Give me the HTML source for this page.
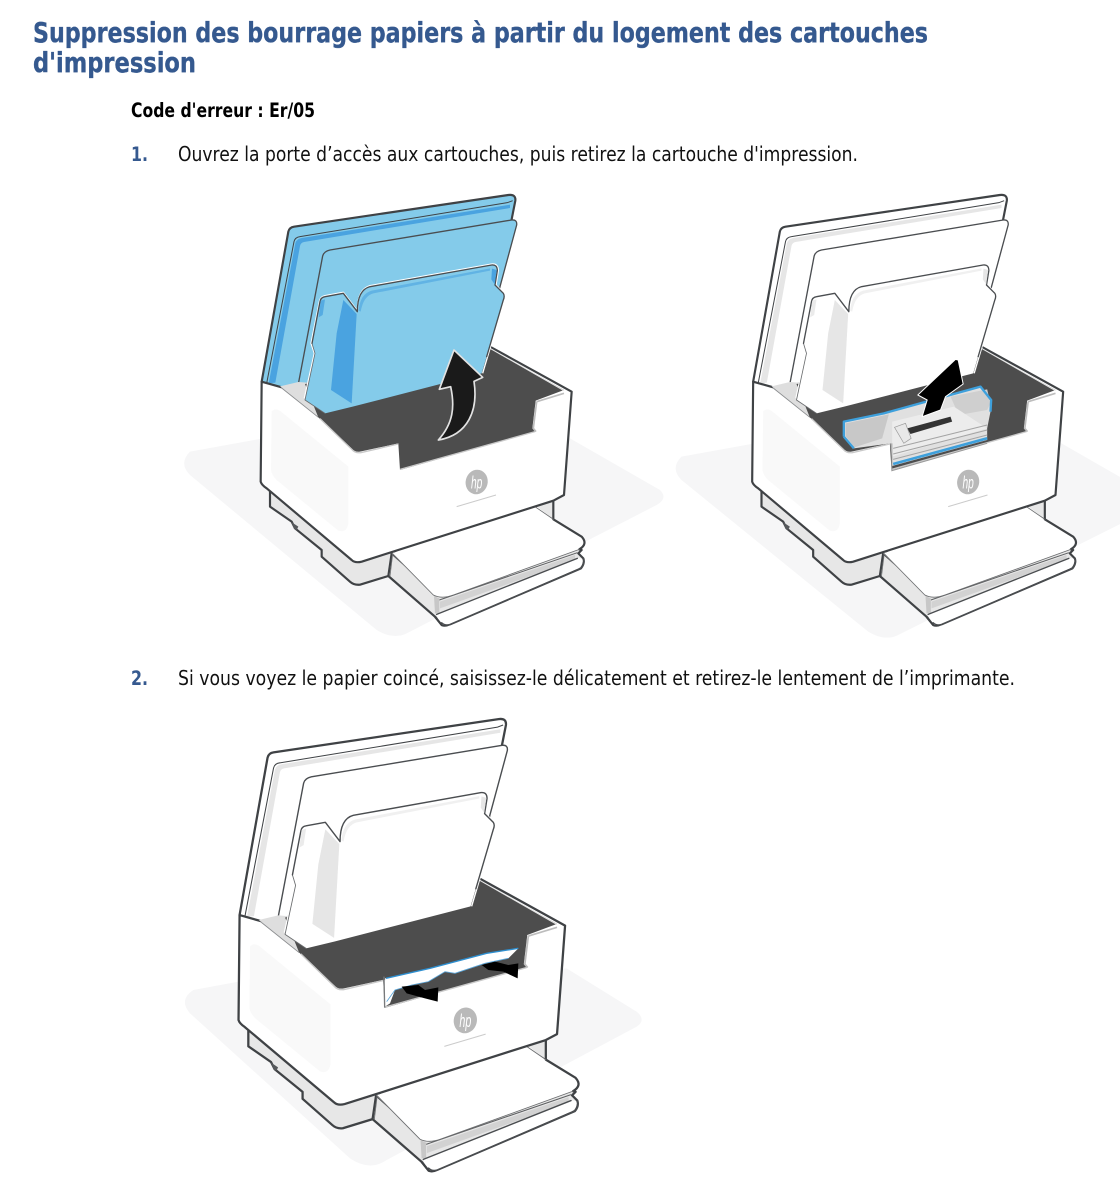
<!DOCTYPE html>
<html lang="fr">
<head>
<meta charset="utf-8">
<title>Suppression des bourrage papiers</title>
<style>
html,body{margin:0;padding:0;background:#fff}
svg{display:block}
text{font-family:"DejaVu Sans","Liberation Sans",sans-serif}
.hp{font-family:"Liberation Sans",sans-serif}
.title{stroke:#35598f;stroke-width:.35px}
.s{stroke:#3f4245;stroke-width:6.5;stroke-linejoin:round;stroke-linecap:round}
.t{stroke:#4a4d50;stroke-width:4;stroke-linejoin:round;stroke-linecap:round}
.n{stroke:#6a6c6e;stroke-width:2.5;stroke-linejoin:round;stroke-linecap:round}
.l{fill:var(--l)}
.m{fill:var(--m)}
.w{fill:#fff}
.g{fill:#e7e7e7}
.soft{filter:blur(.5px)}
</style>
</head>
<body>
<svg width="1120" height="1194" viewBox="0 0 1120 1194" xmlns="http://www.w3.org/2000/svg">
<defs>
<g id="p">
  <!-- base -->
  <path class="g s" d="M300 925L300 980L365 1025L375 1045L455 1110L455 1130L540 1205Q552 1216 570 1214L655 1188L680 1100Z"/>
  <path fill="#55585b" d="M364 1026L385 1040L380 1050L372 1046Z"/>
  <path class="g s" d="M1095 975L1095 985L1150 1020L1150 950Z"/>
  <!-- tray -->
  <path class="g s" d="M665 1120L655 1188L795 1310L815 1335Q825 1340 840 1333L1233 1165Q1245 1150 1240 1135L1225 1120L1235 1110L1225 1105L800 1240Z"/>
  <path fill="#d2d2d2" d="M810 1265L1215 1125L1215 1140L810 1285Z"/>
  <path d="M808 1260L1222 1118" stroke="#5d5f61" stroke-width="3" fill="none"/>
  <path fill="#c7c7c7" d="M792 1248L808 1255L808 1298L795 1300Z"/>
  <path class="w" d="M800 1303L1222 1135Q1240 1132 1238 1145Q1236 1158 1225 1165L840 1332Q825 1338 815 1332Q802 1318 800 1303Z"/>
  <path d="M815 1328Q825 1338 840 1333L1233 1165Q1245 1152 1240 1135M800 1303L1222 1135" class="t" fill="none"/>
  <path d="M795 1310L815 1335" class="s" fill="none"/>
  <path class="w" d="M665 1120L790 1245Q815 1258 850 1245L1228 1108Q1255 1095 1235 1070L1150 1018L1095 975Z"/>
  <path d="M1150 1018L1235 1070Q1255 1092 1228 1108" class="s" fill="none"/>
  <path d="M667 1120L790 1245Q815 1258 850 1245L1228 1108" class="n" fill="none"/>
  <path d="M1095 980L1150 1018" class="n" fill="none"/>
  <path d="M668 1122L660 1188" class="n" fill="none"/>
  <!-- lid -->
  <path class="l s" d="M275 605L355 155Q358 142 372 140L1015 45Q1038 42 1036 62L1025 118L985 330L950 520L300 640Z"/>
  <path d="M290 610L372 185Q375 172 390 170L1012 68L1028 62" fill="none" stroke="#3f4245" stroke-width="3"/>
  <path class="m" d="M296 610L376 190Q380 176 395 174L1020 74L1020 84L402 186Q392 188 390 198L316 608Z"/>
  <path class="l t" d="M385 612L458 228Q462 214 480 210L1025 120Q1042 118 1040 135L990 320L950 520L400 640Z"/>
  <!-- body -->
  <path class="w s" d="M275 605L335 622L405 612L960 500L1205 635L1182 945L1150 962L575 1145Q555 1150 545 1140L290 925Q275 915 272 905Z"/>
  <path d="M305 695Q315 682 332 694L535 860L535 1030Q530 1060 505 1052L320 900Q305 885 303 870Z" fill="#f9f9f9"/>
  <path d="M330 619L385 606L412 608L455 692L445 712Z" fill="#dedede"/>
  <path d="M335 624L445 712" stroke="#8a8c8e" stroke-width="2.5" fill="none"/>
  <path d="M405 612L960 505L1182 630L1097 662L1087 745L1095 755L690 870L685 790L570 815Q555 817 545 805L445 712Z" fill="#4d4d4d"/>
  <path d="M450 716L545 808Q555 820 572 818L685 792M690 868L1095 755" stroke="#c9c9c9" stroke-width="4" fill="none"/>
  <path d="M960 505L1182 632" stroke="#e8e8e8" stroke-width="3" fill="none"/>
  <path d="M1100 665L1182 640M1100 665L1090 745L1098 755" stroke="#bdbdbd" stroke-width="5" fill="none"/>
  <!-- door -->
  <path class="l" d="M405 660L435 520L425 490L450 365Q452 352 465 350L520 340L562 395Q562 330 600 320L965 255Q982 253 982 272L975 315L1000 340Q1005 348 1000 360L935 580L548 680L465 700Z"/>
  <path stroke="#fff" stroke-width="4" fill="none" stroke-linejoin="round" d="M403 655L433 520L423 490L448 365Q450 350 465 347L520 337L562 392Q562 328 600 317L965 252Q985 250 985 272L978 315L1003 340Q1008 348 1003 360L938 580"/>
  <path class="n" fill="none" d="M405 660L435 520L426 490M405 660L465 700"/>
  <path class="t" fill="none" d="M426 490L450 365Q452 352 465 350L520 340L562 395Q562 330 600 320L965 255Q982 253 982 272L975 315L1000 340Q1005 348 1000 360L950 530"/>
  <path class="m" d="M520 360L560 402L545 670L483 630L500 460Z"/>
  <path class="m" d="M452 362L465 358L458 405L446 412Z" opacity=".8"/>
  <path class="m" d="M566 392Q570 342 605 332L960 265L960 272L610 340Q580 348 572 395Z" opacity=".6"/>
  <path class="m" d="M966 266L980 270L974 313L964 298Z"/>
</g>
<g id="logo">
  <ellipse cx="920" cy="906" rx="33" ry="37" fill="#b9b9b9" transform="rotate(14 920 906)"/>
  <path d="M860 980L978 945" stroke="#cbcbcb" stroke-width="3"/>
</g>
</defs>

<!-- headings -->
<text class="title" x="33" y="42" font-size="28" font-weight="700" fill="#35598f" textLength="895" lengthAdjust="spacingAndGlyphs">Suppression des bourrage papiers à partir du logement des cartouches</text>
<text class="title" x="33" y="72" font-size="28" font-weight="700" fill="#35598f" textLength="163" lengthAdjust="spacingAndGlyphs">d'impression</text>
<text x="131" y="117" font-size="19.5" font-weight="700" fill="#000" textLength="184" lengthAdjust="spacingAndGlyphs">Code d'erreur : Er/05</text>
<text x="131" y="161" font-size="19.5" font-weight="700" fill="#35598f" textLength="17" lengthAdjust="spacingAndGlyphs">1.</text>
<text x="178" y="161" font-size="20" fill="#111" textLength="680" lengthAdjust="spacingAndGlyphs">Ouvrez la porte d’accès aux cartouches, puis retirez la cartouche d'impression.</text>
<text x="131" y="685" font-size="19.5" font-weight="700" fill="#35598f" textLength="17" lengthAdjust="spacingAndGlyphs">2.</text>
<text x="178" y="685" font-size="20" fill="#111" textLength="837" lengthAdjust="spacingAndGlyphs">Si vous voyez le papier coincé, saisissez-le délicatement et retirez-le lentement de l’imprimante.</text>

<!-- printer 1 -->
<g class="soft" transform="translate(170,180) scale(.33333)">
  <path fill="#f6f6f7" d="M60 815L280 775L1200 775L1470 930Q1495 955 1460 975L710 1360Q670 1380 620 1350L60 885Q25 850 60 815Z"/>
  <use href="#p" style="--l:#84cbea;--m:#4aa3e0"/>
  <use href="#logo"/>
  <text class="hp" x="920" y="925" text-anchor="middle" font-size="54" font-style="italic" fill="#fff" textLength="34" lengthAdjust="spacingAndGlyphs">hp</text>
  <path fill="#1a1a1a" stroke="#e2e2e2" stroke-width="5" stroke-linejoin="round" d="M852 510L938 592L912 604C925 690 895 765 805 780C850 730 855 680 842 620L808 628Z"/>
</g>

<!-- printer 2 -->
<g class="soft" transform="translate(661.5,180) scale(.33333)">
  <path fill="#f6f6f7" d="M60 830L280 790L1200 790L1470 945Q1500 970 1460 990L710 1365Q670 1385 620 1355L60 900Q25 865 60 830Z"/>
  <use href="#p" style="--l:#fff;--m:#e6e6e6"/>
  <use href="#logo"/>
  <text class="hp" x="920" y="925" text-anchor="middle" font-size="54" font-style="italic" fill="#fff" textLength="34" lengthAdjust="spacingAndGlyphs">hp</text>
  <!-- cartridge -->
  <g transform="translate(27,0)">
    <path fill="#e0e0e0" d="M520 725L640 700L840 645L930 620L962 660L960 695L950 745L950 780L665 858L660 790L550 805L520 770Z"/>
    <path fill="#c8c8c8" d="M525 730L655 703L635 775L552 802L525 768Z"/>
    <path fill="#cfcfcf" d="M840 650L950 628L960 670L950 690L865 705Z"/>
    <path fill="#ececec" d="M665 725L850 680L950 745L665 830Z"/>
    <path d="M668 805L950 735M668 822L950 750M668 838L950 765" stroke="#a4a4a4" stroke-width="3" fill="none"/>
    <path fill="#333" d="M710 745L840 710L845 725L720 762Z"/>
    <path d="M672 742L705 730L722 775L700 790Z" fill="#e8e8e8" stroke="#9a9a9a" stroke-width="2"/>
    <path d="M520 770L520 725L640 700L930 620L962 660L960 695M520 770L550 805" stroke="#3ea0dc" stroke-width="7" fill="none" stroke-linejoin="round"/>
    <path d="M668 852L950 775" stroke="#3ea0dc" stroke-width="8" fill="none"/>
    <path d="M664 790L664 872L950 790" stroke="#9a9a9a" stroke-width="3" fill="none"/>
    <path fill="#000" stroke="#fff" stroke-width="3" stroke-linejoin="round" d="M855 538L863 540L878 612L825 650L810 690L755 710L770 660L742 645Z"/>
  </g>
</g>

<!-- printer 3 -->
<g class="soft" transform="translate(170,705) scale(.33333)">
  <path fill="#f6f6f7" d="M70 855L260 820L1190 790L1400 920Q1430 945 1400 965L650 1365Q600 1400 540 1360L60 925Q25 885 70 855Z"/>
  <g transform="translate(-80,-5) scale(1.05)">
    <use href="#p" style="--l:#fff;--m:#e6e6e6"/>
    <use href="#logo"/>
    <text class="hp" x="920" y="925" text-anchor="middle" font-size="54" font-style="italic" fill="#fff" textLength="34" lengthAdjust="spacingAndGlyphs">hp</text>
  </g>
  <!-- paper in notch -->
  <path fill="#fff" d="M642 822L645 905L660 895L675 855L650 830Z"/>
  <path fill="#fff" d="M645 820L780 790L950 745L1045 730L1015 760L945 775L855 805L825 800L775 830L725 840L675 855L650 890Z"/>
  <path d="M648 820L780 790L950 745L1045 730" stroke="#2e8fd0" stroke-width="4" fill="none"/>
  <path d="M1015 760L945 775L855 805L825 800L775 830L725 840L675 855L650 890" stroke="#5aa5d8" stroke-width="2.5" fill="none"/>
  <path d="M642 815L644 908" stroke="#77797b" stroke-width="4" fill="none"/>
  <path fill="#000" d="M935 780L975 770L1015 780L1045 775L1043 820L1000 800L955 795Z"/>
  <path fill="#000" d="M695 845L745 840L765 855L805 847L803 890L765 880L710 865Z"/>
</g>
</svg>
</body>
</html>
